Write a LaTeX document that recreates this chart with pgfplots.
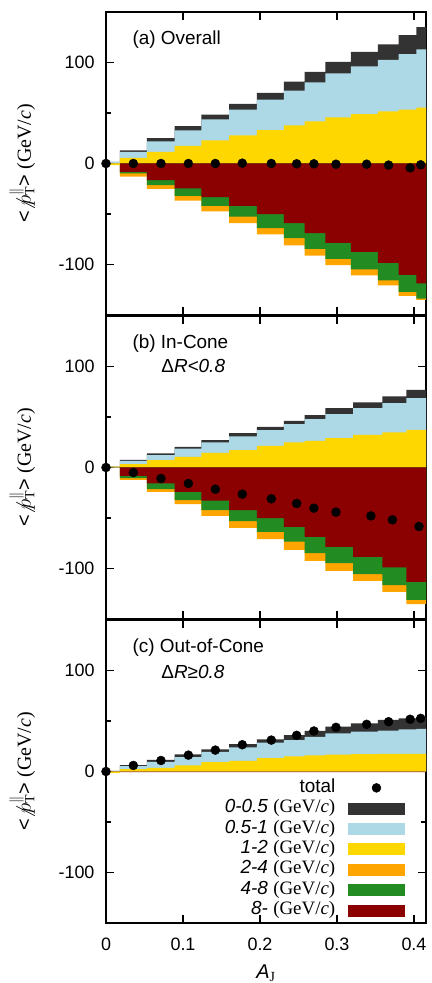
\documentclass[border=0pt]{standalone}
\usepackage{fontspec}
\setmainfont{Liberation Sans}
\newfontfamily\seriffont{Liberation Serif}
\usepackage{pgfplots}
\usepackage{pgfplotstable}
\pgfplotsset{compat=1.18}

\definecolor{cA}{HTML}{333333}
\definecolor{cB}{HTML}{ADD8E6}
\definecolor{cC}{HTML}{FFD700}
\definecolor{cD}{HTML}{FFA500}
\definecolor{cE}{HTML}{228B22}
\definecolor{cF}{HTML}{8B0000}

% cumulative stacks, bin left edges (last row closes the last bin)
\pgfplotstableread{
x      Y     B      D      R       G       O
0      0     1.5    1.5    0       0       0
0.018  5.6   11.5   13.1   -8.2    -9.8    -13.1
0.053  11.5  22.0   25.2   -16.4   -21.3   -25.2
0.089  17.4  32.8   37.0   -24.6   -32.1   -36.7
0.124  23.0  43.6   48.5   -33.4   -42.0   -47.5
0.160  27.9  53.4   59.0   -42.0   -52.5   -59.0
0.196  33.1  63.3   69.8   -50.2   -63.9   -70.2
0.231  37.7  72.1   81.0   -59.0   -73.8   -81.0
0.258  41.6  80.3   90.8   -68.9   -84.6   -91.1
0.285  45.6  89.2   100.7  -78.7   -94.4   -100.7
0.318  48.9  96.1   110.5  -87.5   -104.9  -110.8
0.353  51.5  102.6  118.0  -98.4   -115.7  -120.7
0.380  53.4  108.2  127.2  -110.2  -127.2  -131.1
0.403  55.4  113.1  135.1  -118.7  -133.8  -135.1
0.430  55.4  113.1  135.1  -118.7  -133.8  -135.1
}\ta
\pgfplotstableread{
x       y
0       0
0.0355  0
0.0714  0
0.107   0
0.142   0
0.177   0.3
0.2147  0
0.2476  -0.3
0.270   -0.3
0.2987  -0.7
0.3385  -0.7
0.367   -1.6
0.395   -4.3
0.4087  -1.3
}\da

\pgfplotstableread{
x      Y     B      D      R       G       O
0      0.8   0.8    0.8    0       0       0
0.018  3.3   6.6    7.6    -8.3    -10.6   -12.2
0.053  7.3   12.2   13.9   -15.8   -21.5   -24.1
0.089  10.6  18.8   20.5   -24.1   -32.3   -36.3
0.124  14.5  24.8   27.1   -32.7   -42.2   -47.9
0.160  17.2  30.7   34.0   -42.2   -53.1   -59.7
0.196  21.5  37.0   40.3   -50.2   -63.7   -71.0
0.231  24.8  42.9   46.2   -58.7   -73.3   -81.5
0.258  26.4  47.9   51.8   -68.6   -84.8   -92.4
0.285  29.0  52.8   58.7   -78.5   -94.7   -102.3
0.321  32.3  58.7   64.4   -88.4   -105.6  -112.2
0.359  34.7  63.7   70.3   -99.0   -116.5  -123.1
0.390  37.3  68.6   76.9   -113.2  -131.0  -135.3
0.430  37.3  68.6   76.9   -113.2  -131.0  -135.3
}\tb
\pgfplotstableread{
x       y
0       0
0.0355  -5.0
0.0714  -10.9
0.107   -15.8
0.142   -21.5
0.177   -26.4
0.2147  -31.0
0.2476  -35.6
0.270   -40.3
0.2987  -44.2
0.344   -47.9
0.372   -51.8
0.4065  -58.4
}\db

\pgfplotstableread{
x      Y     B      D      R
0      0     0.5    0.5    -0.7
0.018  2.3   5.3    6.3    -0.7
0.053  3.6   9.6    11.6   -0.7
0.089  6.0   14.2   16.9   -0.7
0.124  9.3   19.5   21.9   -0.7
0.160  10.6  23.8   27.2   -0.7
0.196  13.2  28.5   31.8   -0.7
0.231  14.9  31.1   36.1   -0.7
0.258  15.9  34.4   40.1   -0.7
0.285  16.6  37.7   44.4   -0.7
0.318  17.2  39.4   47.7   -0.7
0.353  17.5  40.4   51.0   -0.7
0.380  17.5  41.7   52.6   -0.7
0.403  17.5  42.1   53.6   -0.7
0.430  17.5  42.1   53.6   -0.7
}\tc
\pgfplotstableread{
x       y
0       0
0.0355  6.0
0.0714  10.9
0.107   16.2
0.142   21.2
0.177   26.5
0.2147  31.1
0.2476  35.8
0.270   40.1
0.2987  43.7
0.3385  46.7
0.367   49.3
0.395   51.7
0.4087  52.6
}\dc

\pgfplotsset{
  panel/.style={
    scale only axis, width=320bp, height=303bp,
    xmin=0, xmax=0.4156, ymin=-150, ymax=150,
    xtick={0,0.1,0.2,0.3,0.4}, xticklabels={},
    ytick={-100,0,100}, yticklabels={-100,0,100},
    minor ytick={-50,50},
    tick align=inside,
    major tick length=8bp, minor tick length=5bp,
    axis line style={line width=1.7bp},
    every tick/.style={black, line width=1.1bp},
    tick label style={font=\fontsize{18}{20}\selectfont},
    yticklabel style={xshift=-8bp},
    xticklabel style={yshift=-11bp},
    clip mode=individual,
    ylabel={\textless$\not{p}^{\|}_{\hbox{\seriffont\fontsize{14}{14}\selectfont T}}$\textgreater\ {\seriffont (GeV/\textit{c})}},
    every axis y label/.style={at={(axis description cs:-0.262,0.5)}, rotate=90, anchor=center, font=\fontsize{20}{22}\selectfont},
  },
}
\tikzset{lab/.style={anchor=west, font=\fontsize{19}{22}\selectfont}}

\begin{document}
\begin{tikzpicture}
% (a) Overall
\begin{axis}[panel, at={(0bp,608bp)}, anchor=south west]
\addplot[fill=cA, draw=none, const plot mark left] table[x=x,y=D]{\ta} \closedcycle;
\addplot[fill=cB, draw=none, const plot mark left] table[x=x,y=B]{\ta} \closedcycle;
\addplot[fill=cC, draw=none, const plot mark left] table[x=x,y=Y]{\ta} \closedcycle;
\addplot[fill=cD, draw=none, const plot mark left] table[x=x,y=O]{\ta} \closedcycle;
\addplot[fill=cE, draw=none, const plot mark left] table[x=x,y=G]{\ta} \closedcycle;
\addplot[fill=cF, draw=none, const plot mark left] table[x=x,y=R]{\ta} \closedcycle;
\addplot[fill=cC, draw=none, const plot mark left] coordinates {(0,-1.5) (0.018,-1.5)} \closedcycle;
\addplot[only marks, mark=*, mark size=4.5bp, black] table[x=x,y=y]{\da};
\node[lab] at (rel axis cs:0.072,0.908) {(a) Overall};
\end{axis}
% (b) In-Cone
\begin{axis}[panel, at={(0bp,304bp)}, anchor=south west]
\addplot[fill=cA, draw=none, const plot mark left] table[x=x,y=D]{\tb} \closedcycle;
\addplot[fill=cB, draw=none, const plot mark left] table[x=x,y=B]{\tb} \closedcycle;
\addplot[fill=cC, draw=none, const plot mark left] table[x=x,y=Y]{\tb} \closedcycle;
\addplot[fill=cD, draw=none, const plot mark left] table[x=x,y=O]{\tb} \closedcycle;
\addplot[fill=cE, draw=none, const plot mark left] table[x=x,y=G]{\tb} \closedcycle;
\addplot[fill=cF, draw=none, const plot mark left] table[x=x,y=R]{\tb} \closedcycle;
\addplot[only marks, mark=*, mark size=4.5bp, black] table[x=x,y=y]{\db};
\node[lab] at (rel axis cs:0.072,0.91) {(b) In-Cone};
\node[lab] at (rel axis cs:0.162,0.835) {Δ\textit{R<0.8}};
\end{axis}
% (c) Out-of-Cone
\begin{axis}[panel, at={(0bp,0bp)}, anchor=south west,
  xticklabels={0,0.1,0.2,0.3,0.4},
  xlabel={\textit{A}\textsubscript{\seriffont J}},
  every axis x label/.style={at={(axis description cs:0.5,-0.165)}, anchor=center, font=\fontsize{20}{22}\selectfont},
  legend style={at={(rel axis cs:0.934,0.478)}, anchor=north east, draw=none, fill=none,
    inner sep=0pt, row sep=1.4bp, font=\fontsize{19}{21}\selectfont,
    nodes={inner sep=1bp, text height=13bp, text depth=4bp},
    /tikz/every odd column/.style={column sep=12bp}},
  legend cell align=right, legend plot pos=right]
\addplot[fill=cA, draw=none, const plot mark left, forget plot] table[x=x,y=D]{\tc} \closedcycle;
\addplot[fill=cB, draw=none, const plot mark left, forget plot] table[x=x,y=B]{\tc} \closedcycle;
\addplot[fill=cC, draw=none, const plot mark left, forget plot] table[x=x,y=Y]{\tc} \closedcycle;
\addplot[fill=cF, draw=none, const plot mark left, forget plot] table[x=x,y=R]{\tc} \closedcycle;
\addplot[fill=cC, draw=none, const plot mark left, forget plot] coordinates {(0,-1.5) (0.018,-1.5)} \closedcycle;
\addplot[only marks, mark=*, mark size=4.5bp, black, forget plot] table[x=x,y=y]{\dc};
\addlegendimage{legend image code/.code={\fill[black] (28bp,0bp) circle (4.5bp);}}
\addlegendentry{total}
\addlegendimage{legend image code/.code={\fill[cA] (0bp,-5.5bp) rectangle (56bp,5.5bp);}}
\addlegendentry{\textit{0-0.5} {\seriffont (GeV/\textit{c})}}
\addlegendimage{legend image code/.code={\fill[cB] (0bp,-5.5bp) rectangle (56bp,5.5bp);}}
\addlegendentry{\textit{0.5-1} {\seriffont (GeV/\textit{c})}}
\addlegendimage{legend image code/.code={\fill[cC] (0bp,-5.5bp) rectangle (56bp,5.5bp);}}
\addlegendentry{\textit{1-2} {\seriffont (GeV/\textit{c})}}
\addlegendimage{legend image code/.code={\fill[cD] (0bp,-5.5bp) rectangle (56bp,5.5bp);}}
\addlegendentry{\textit{2-4} {\seriffont (GeV/\textit{c})}}
\addlegendimage{legend image code/.code={\fill[cE] (0bp,-5.5bp) rectangle (56bp,5.5bp);}}
\addlegendentry{\textit{4-8} {\seriffont (GeV/\textit{c})}}
\addlegendimage{legend image code/.code={\fill[cF] (0bp,-5.5bp) rectangle (56bp,5.5bp);}}
\addlegendentry{\textit{8-} {\seriffont (GeV/\textit{c})}}
\node[lab] at (rel axis cs:0.072,0.91) {(c) Out-of-Cone};
\node[lab] at (rel axis cs:0.162,0.83) {Δ\textit{R≥0.8}};
\end{axis}
\pgfresetboundingbox
\path[use as bounding box] (-106bp,-60bp) rectangle (326bp,923bp);
\end{tikzpicture}
\end{document}
